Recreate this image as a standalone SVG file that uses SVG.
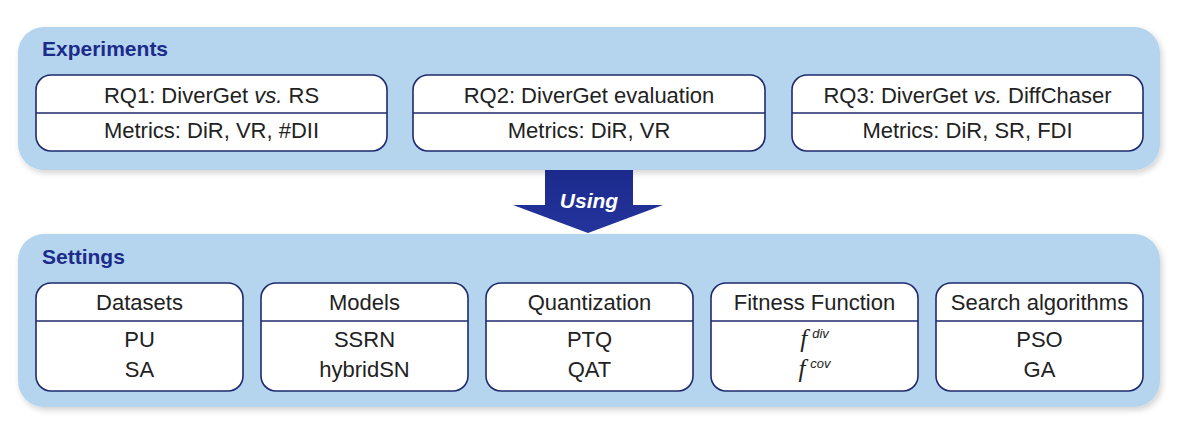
<svg xmlns="http://www.w3.org/2000/svg" width="1177" height="423" viewBox="0 0 1177 423">
  <defs>
    <filter id="sh" x="-5%" y="-10%" width="110%" height="125%">
      <feGaussianBlur in="SourceAlpha" stdDeviation="3"/>
      <feOffset dx="2" dy="3" result="b"/>
      <feComponentTransfer><feFuncA type="linear" slope="0.18"/></feComponentTransfer>
      <feMerge><feMergeNode/><feMergeNode in="SourceGraphic"/></feMerge>
    </filter>
    <linearGradient id="ag" x1="0" y1="0" x2="0" y2="1">
      <stop offset="0" stop-color="#1c2a8c"/>
      <stop offset="1" stop-color="#23349c"/>
    </linearGradient>
  </defs>
  <style>
    .panel { fill: #b5d4ee; }
    .box { fill: #ffffff; stroke: #1f2a6e; stroke-width: 1.6; }
    .div { stroke: #1f2a6e; stroke-width: 1.6; }
    .t { font-family: "Liberation Sans", Arial, sans-serif; font-size: 22px; fill: #222222; text-anchor: middle; }
    .title { font-family: "Liberation Sans", Arial, sans-serif; font-size: 21px; font-weight: bold; fill: #1b2b8a; }
    .sup { font-size: 13px; font-style: italic; }
  </style>
  <rect width="1177" height="423" fill="#ffffff"/>

  <g id="experiments">
    <rect class="panel" x="18" y="27" width="1142" height="143" rx="26" filter="url(#sh)"/>
    <text class="title" x="42" y="56">Experiments</text>
  </g>
  <g id="settings">
    <rect class="panel" x="18" y="234" width="1142" height="173" rx="26" filter="url(#sh)"/>
    <text class="title" x="42" y="264">Settings</text>
  </g>

  <g id="rq1">
    <rect class="box" x="36" y="75" width="351" height="76" rx="15"/>
    <line class="div" x1="36" y1="113" x2="387" y2="113"/>
    <text class="t" x="211.5" y="103">RQ1: DiverGet <tspan font-style="italic">vs.</tspan> RS</text>
    <text class="t" x="211.5" y="138">Metrics: DiR, VR, #DII</text>
  </g>
  <g id="rq2">
    <rect class="box" x="413" y="75" width="352" height="76" rx="15"/>
    <line class="div" x1="413" y1="113" x2="765" y2="113"/>
    <text class="t" x="589" y="103">RQ2: DiverGet evaluation</text>
    <text class="t" x="589" y="138">Metrics: DiR, VR</text>
  </g>
  <g id="rq3">
    <rect class="box" x="792" y="75" width="351" height="76" rx="15"/>
    <line class="div" x1="792" y1="113" x2="1143" y2="113"/>
    <text class="t" x="967.5" y="103">RQ3: DiverGet <tspan font-style="italic">vs.</tspan> DiffChaser</text>
    <text class="t" x="967.5" y="138">Metrics: DiR, SR, FDI</text>
  </g>

  <g id="connectors">
    <polygon points="545,170 633,170 633,205 663,205 588,233 513,205 545,205" fill="url(#ag)"/>
    <text x="589" y="208" font-family="Liberation Sans, Arial, sans-serif" font-size="21" font-style="italic" font-weight="bold" fill="#ffffff" text-anchor="middle">Using</text>
  </g>

  <g id="datasets">
    <rect class="box" x="36" y="283" width="207" height="108" rx="15"/>
    <line class="div" x1="36" y1="321" x2="243" y2="321"/>
    <text class="t" x="139.5" y="310">Datasets</text>
    <text class="t" x="139.5" y="347">PU</text>
    <text class="t" x="139.5" y="377">SA</text>
  </g>
  <g id="models">
    <rect class="box" x="261" y="283" width="207" height="108" rx="15"/>
    <line class="div" x1="261" y1="321" x2="468" y2="321"/>
    <text class="t" x="364.5" y="310">Models</text>
    <text class="t" x="364.5" y="347">SSRN</text>
    <text class="t" x="364.5" y="377">hybridSN</text>
  </g>
  <g id="quantization">
    <rect class="box" x="486" y="283" width="207" height="108" rx="15"/>
    <line class="div" x1="486" y1="321" x2="693" y2="321"/>
    <text class="t" x="589.5" y="310">Quantization</text>
    <text class="t" x="589.5" y="347">PTQ</text>
    <text class="t" x="589.5" y="377">QAT</text>
  </g>
  <g id="fitness">
    <rect class="box" x="711" y="283" width="207" height="108" rx="15"/>
    <line class="div" x1="711" y1="321" x2="918" y2="321"/>
    <text class="t" x="814.5" y="347"><tspan font-family="Liberation Serif, serif" font-style="italic" font-size="25">f</tspan><tspan class="sup" dx="5" dy="-9">div</tspan></text>
    <text class="t" x="814.5" y="310">Fitness Function</text>
    <text class="t" x="814.5" y="377"><tspan font-family="Liberation Serif, serif" font-style="italic" font-size="25">f</tspan><tspan class="sup" dx="5" dy="-9">cov</tspan></text>
  </g>
  <g id="search">
    <rect class="box" x="936" y="283" width="207" height="108" rx="15"/>
    <line class="div" x1="936" y1="321" x2="1143" y2="321"/>
    <text class="t" x="1039.5" y="310">Search algorithms</text>
    <text class="t" x="1039.5" y="347">PSO</text>
    <text class="t" x="1039.5" y="377">GA</text>
  </g>
</svg>
